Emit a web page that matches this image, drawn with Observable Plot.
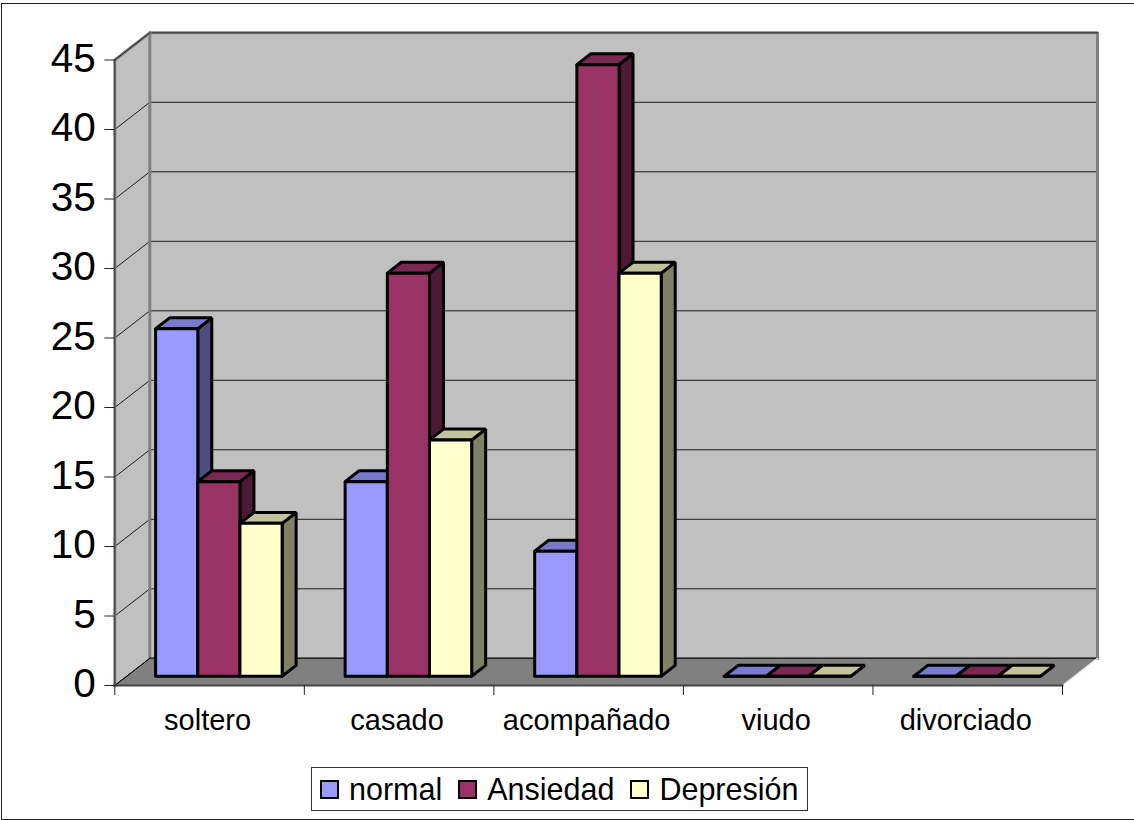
<!DOCTYPE html>
<html lang="es">
<head>
<meta charset="utf-8">
<title>Estado civil: normal, ansiedad y depresión</title>
<script src="https://cdn.jsdelivr.net/npm/d3@7"></script>
<script src="https://cdn.jsdelivr.net/npm/@observablehq/plot@0.6"></script>
<style>
  html, body { margin: 0; padding: 0; background: #fff; overflow: hidden; }
  body { width: 1134px; height: 820px; position: relative; font-family: "Liberation Sans", Arial, sans-serif; }
  #border { position: absolute; left: 1px; top: 3px; right: 0; height: 815px;
            border: 1px solid #222; border-right: none; }
  #chart { position: absolute; left: 0; top: 0; }
  #legend { position: absolute; left: 311px; top: 767px; width: 497px; height: 44px; box-sizing: border-box;
            border: 1px solid #333; background: #fff; display: flex; align-items: center; padding-left: 8px;
            font-size: 30.5px; color: #000; }
  .item { display: flex; align-items: center; margin-right: 16px; white-space: nowrap; }
  .swatch { width: 19px; height: 19px; box-sizing: border-box; border: 2.8px solid #000; margin-right: 10px; }
</style>
</head>
<body>
<div id="border"></div>
<div id="chart"></div>
<div id="legend"></div>
<script>
// Respuestas por estado civil
const categories = ["soltero", "casado", "acompañado", "viudo", "divorciado"];
const seriesNames = ["normal", "Ansiedad", "Depresión"];
const normal = [25, 14, 9, 0, 0];
const ansiedad = [14, 29, 44, 0, 0];
const depresion = [11, 17, 29, 0, 0];
const yTicks = [0, 5, 10, 15, 20, 25, 30, 35, 40, 45];

const seriesValues = [normal, ansiedad, depresion];

// Face colours of each series: front, side, top
const faceColors = [
  ["#9999FF", "#4D4D80", "#7A7ACC"],
  ["#993366", "#4D1A33", "#7A2952"],
  ["#FFFFCC", "#808066", "#C2C29C"]
];

// Oblique depth of the chart box, in scale units
const depthX = 0.1847;
const depthY = 1.957;
const at = (x, y, d = 0) => ({x: x + d * depthX, y: y + d * depthY});
const ring = (...pts) => [...pts, pts[0]];

// Column placement inside one category
const barStart = 0.1525;
const barWidth = 0.2225;
const barFront = 0.34;
const barBack = 0.74;

const black = {stroke: "#000", strokeLinejoin: "miter"};
const edge = (pts, stroke, strokeWidth) =>
  Plot.line(pts, {x: "x", y: "y", stroke, strokeWidth, strokeLinecap: "square"});

const marks = [];

// Back wall, side wall and floor
marks.push(Plot.line(ring(at(0, 0, 1), at(5, 0, 1), at(5, 45, 1), at(0, 45, 1)), {x: "x", y: "y", fill: "#C0C0C0"}));
marks.push(Plot.line(ring(at(0, 0), at(0, 0, 1), at(0, 45, 1), at(0, 45)), {x: "x", y: "y", fill: "#C0C0C0"}));
marks.push(Plot.line(ring(at(0, 0), at(5, 0), at(5, 0, 1), at(0, 0, 1)), {x: "x", y: "y", fill: "#808080"}));

// Gridlines wrapping the two walls
for (const v of yTicks) {
  marks.push(edge([at(0, v), at(0, v, 1), at(5, v, 1)], "#1c1c1c", 1));
}

// Wall edges
marks.push(edge([at(0, 0, 1), at(0, 45, 1), at(5, 45, 1), at(5, 0, 1)], "#808080", 3));
marks.push(edge([at(0, 45, 1), at(5, 45, 1)], "#333", 1));
marks.push(edge([at(0, 0), at(0, 45), at(0, 45, 1)], "#808080", 3));
marks.push(edge([at(0, 0), at(0, 45)], "#333", 1));
marks.push(edge([at(0, 45), at(0, 45, 1)], "#222", 1));
marks.push(edge([at(0, 0), at(0, 0, 1)], "#000", 1));
marks.push(edge([at(0, 0, 1), at(5, 0, 1)], "#222", 1.5));
marks.push(edge([at(5, 0), at(5, 0, 1)], "#e8e8e8", 1.5));

// Category ticks, value ticks and front floor edge
marks.push(edge([at(0, 0), at(5, 0)], "#444", 2));
marks.push(Plot.axisX({ticks: d3.range(categories.length + 1), tickSize: 10, tickFormat: () => "", label: null, stroke: "#222"}));
marks.push(Plot.axisY({ticks: yTicks, tickSize: 10, tickFormat: () => "", label: null, stroke: "#222"}));
marks.push(Plot.axisY({ticks: yTicks, tickSize: 0, tickPadding: 19, fontSize: 40.5, dy: -1, label: null, color: "#000"}));

// Columns, painted left to right so nearer faces overlap
categories.forEach((name, c) => {
  seriesValues.forEach((values, s) => {
    const v = values[c];
    const x0 = c + barStart + s * barWidth;
    const x1 = x0 + barWidth;
    const [front, side, top] = faceColors[s];
    const f = (x, y) => at(x, y, barFront);
    const b = (x, y) => at(x, y, barBack);
    marks.push(Plot.line(ring(f(x1, 0), b(x1, 0), b(x1, v), f(x1, v)), {x: "x", y: "y", fill: side, strokeWidth: 3, ...black}));
    marks.push(Plot.line(ring(f(x0, v), f(x1, v), b(x1, v), b(x0, v)), {x: "x", y: "y", fill: top, strokeWidth: 3, ...black}));
    marks.push(Plot.line(ring(f(x0, 0), f(x1, 0), f(x1, v), f(x0, v)), {x: "x", y: "y", fill: front, strokeWidth: 3, ...black}));
  });
});

// Category names under the floor
marks.push(Plot.text(categories, {
  x: (d, i) => i + 0.5,
  y: () => 0,
  text: (d) => d,
  fontSize: 29,
  dy: 35,
  dx: -2,
  fill: "#000"
}));

const chart = Plot.plot({
  width: 1134,
  height: 760,
  marginTop: 59.5,
  marginBottom: 75,
  marginLeft: 114.3,
  marginRight: 72,
  clip: false,
  style: {fontFamily: "'Liberation Sans', Arial, sans-serif", background: "transparent", overflow: "visible"},
  x: {type: "linear", domain: [0, categories.length], axis: null},
  y: {type: "linear", domain: [0, 45], axis: null},
  marks
});
document.getElementById("chart").append(chart);

// Legend box under the plot
const legend = document.getElementById("legend");
seriesNames.forEach((name, i) => {
  const item = document.createElement("div");
  item.className = "item";
  const swatch = document.createElement("span");
  swatch.className = "swatch";
  swatch.style.background = faceColors[i][0];
  item.append(swatch, document.createTextNode(name));
  legend.append(item);
});
</script>
</body>
</html>
